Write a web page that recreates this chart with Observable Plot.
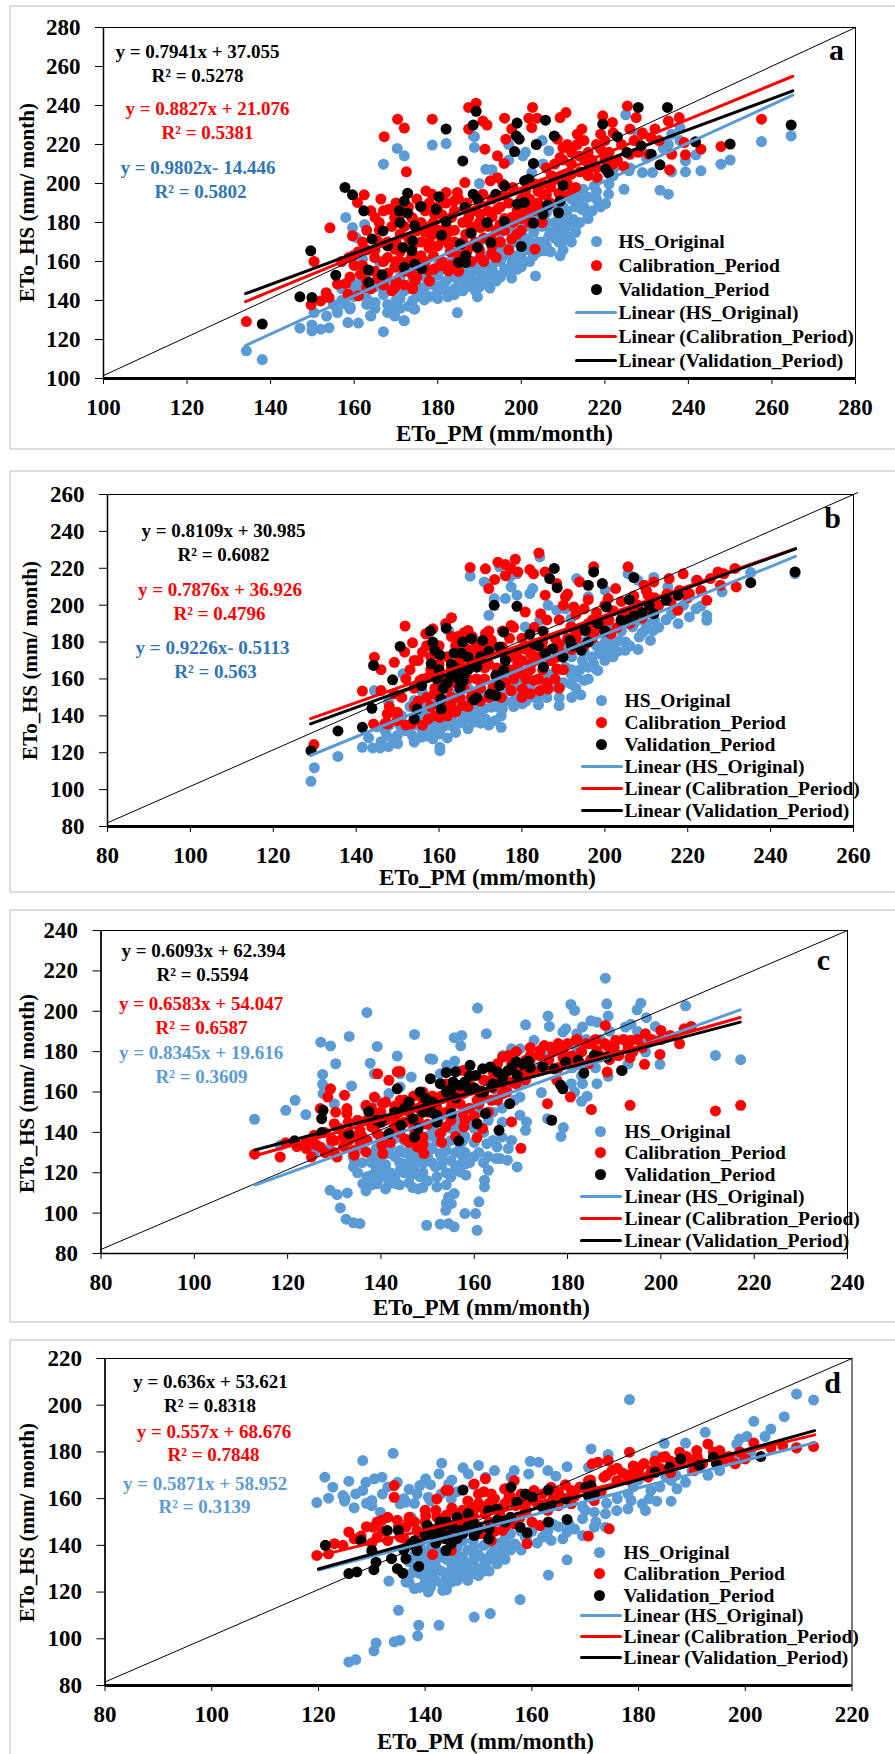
<!DOCTYPE html>
<html><head><meta charset="utf-8">
<script src="https://cdn.jsdelivr.net/npm/d3@7"></script>
<script src="https://cdn.jsdelivr.net/npm/@observablehq/plot@0.6"></script>
<style>
html,body{margin:0;padding:0;background:#fff}
#page{position:relative;width:895px;height:1754px;overflow:hidden}
.box{position:absolute;border:2px solid #dcdcdc;box-sizing:border-box}
.panel{position:absolute;left:0}
.panel svg{display:block;background:transparent}
</style></head><body><div id="page"></div>
<script>
const aHS=[[134.2,114.2],[138,109.7],[147,125.8],[149.9,127.5],[149.9,124.4],[152,125.3],[154,126],[150.4,133.8],[153.4,132],[156,133.8],[158.5,128.7],[161,128.4],[159,135.6],[164,132],[167,124],[172,129.6],[169.7,132],[168,133.8],[174.5,135.6],[176.8,140.3],[182.4,141.9],[184.7,133.8],[189.5,141.9],[192.5,146.3],[195,152],[197.7,151.5],[203.4,152.6],[200,157.3],[197.7,158.6],[202.9,162.9],[205.6,165.5],[209.3,162.9],[210,170.6],[206.6,173],[209.6,175.7],[209.6,180.9],[212.4,181.7],[215.8,184.3],[214.5,186.8],[218.6,189.4],[220.2,189.7],[220.9,194.5],[224.6,197],[221,199.7],[217.5,198.8],[214.8,197],[233.2,196.6],[235.2,194.5],[229,205.6],[231.4,205.6],[236,206],[239.3,206],[243,206.5],[239.3,211.6],[247.8,209.9],[250,212],[241.8,214.7],[257.5,221.5],[264.6,224.4],[235.2,220],[236,225.3],[238,228.7],[228,225.3],[225,235.2],[225.8,206.5],[222.3,208.2],[214.5,221.9],[212.7,215],[206.6,216.8],[205.2,210],[202.5,205.6],[200.4,214.2],[197,220],[191.5,207.3],[188.8,218.5],[188.5,224.4],[182,220.5],[178.7,219.7],[170.3,218],[172,214.2],[167,209.9],[188.8,224],[158,182.6],[159.6,177.4],[162.5,179],[160.5,172.3],[162,161.2],[155.9,134.9],[159.1,136.6],[163.9,132.3],[169.5,133.2],[171.9,129.8],[174.3,135.7],[176.7,140.9],[165,147],[167,143],[170,140],[172,145],[175,142],[177,147],[180,145],[182,150],[184,146],[186,150],[188,148],[190,150],[192,153],[194,150],[168,150],[171,152],[174,150],[176,153],[178,150],[180,153],[183,155],[186,155],[189,155],[192,158],[195,160],[198,163],[200,165],[203,168],[205,170],[207,175],[201,172],[198,170],[195,166],[192,163],[189,160],[186,160],[183,160],[180,158],[164,155],[166,160],[162,145],[160,142],[158,138],[163,138],[165,136],[168,138],[171,136],[174,140],[206,185],[210,188],[212,192],[216,193],[218,196],[222,204],[226,208],[230,213],[234,218],[238,222],[213,178],[211,173],[209,170],[190,200],[193,207],[197,212],[201,216],[205,222],[210,218],[185,165],[190,170],[195,175],[200,180]];
const aHSDense=[163,141,165,139,167,146,169,136,170,146,171,141,173,137,173,146,175,148,176,144,177,152,178,142,179,148,180,141,181,156,181,148,182,145,183,152,184,143,185,157,185,150,186,145,187,153,187,147,188,158,188,151,189,145,190,155,190,147,191,160,191,151,192,149,193,156,193,165,194,160,194,153,195,170,196,156,196,163,197,167,197,155,198,160,198,175,199,170,199,156,200,162,200,172,201,166,201,178,202,160,202,170,203,175,203,182,204,165,204,170,205,178,205,185,206,168,206,180,207,165,208,172,208,180,208,188,209,176,210,166,210,182,211,178,211,186,212,170,213,175,213,188,214,180,214,192,215,188,216,182,217,186,218,192,219,188,161,149,159,143,157,140,160,147,155,138,157,146];
const aCal=[[134.2,129.2],[149.7,137.8],[150.4,160],[154.2,177.3],[153.3,144],[154,141.5],[152,139.8],[156,148.4],[158,148.7],[158.5,143.2],[161,142.4],[159.6,173.2],[159.7,162.9],[158.7,162],[160.8,190.3],[162.4,194.2],[165,182.6],[166.4,192],[167.2,224],[170.4,233],[172,228.4],[172.5,206],[178.7,233],[187.4,239],[189.2,241.2],[187.4,227.9],[190.8,232],[191.8,230],[191.3,217.6],[196,233.5],[202.7,239],[201.8,233.5],[203.8,233.5],[202.5,228.7],[209.3,233.8],[210.7,236.4],[214.5,227.9],[219.5,234.7],[221.8,231.3],[225.4,239.7],[227.5,233.8],[226,227.9],[235.2,232],[237.8,233.8],[239,221],[239.3,214.7],[235.5,207],[236,215],[243,217.6],[247.8,219],[257.5,233],[231,223.6],[230.5,215],[224.6,208.7],[219,217.6],[219,225.3],[213.4,225.3],[213.4,220],[210,218.5],[209.3,213.3],[215.4,211.6],[218.2,203],[212,204.8],[207.2,204],[208.6,222.7],[197.7,227.9],[196.3,222.7],[194.3,214.2],[195.9,210.3],[186.5,200.5],[192.6,201.4],[194.3,203],[195.6,199.7],[177.2,196.2],[178.6,194.5],[182,195.4],[184.7,195.4],[183.9,191],[190.8,194.5],[175.8,188.5],[168.3,186.8],[169.7,182.6],[173.8,182.6],[179.2,184.3],[183.3,182.6],[187.4,182.6],[190.2,184.3],[194.3,186.8],[197.7,182.6],[201.8,189.4],[205.2,194.5],[210,193.7],[171,174],[175,175.7],[179,174],[183,175.7],[186.7,174],[190.2,177.4],[194.9,179],[192.9,171.5],[197.7,171.5],[203.3,166.3],[165.6,170.6],[163,166],[164.9,162],[169.7,166.3],[171,160],[173.8,162.9],[177.9,167],[182.6,168.9],[192.9,163.8],[190.2,162],[184.7,159.5],[180.6,157.8],[169.7,157],[173.8,153.5],[177.9,155.2],[182.6,155.2],[161.5,153.5],[165.6,151],[169.7,146.7],[174.5,150],[163,146.7],[178,178],[181,171],[188,168],[200,185],[205,180],[212,196],[216,204],[222,210],[228,216]];
const aCalDense=[157,160,159,152,160,158,161,165,162,170,162,158,163,150,163,176,164,186,164,146,165,166,165,155,166,180,166,176,167,160,167,148,167,186,168,170,168,162,168,154,169,178,169,145,170,190,170,170,170,160,170,150,171,184,171,165,172,178,172,155,172,148,173,188,173,172,173,160,174,182,174,168,174,146,175,192,175,158,175,152,176,180,176,170,176,163,177,186,177,175,177,160,178,190,178,170,178,150,179,180,179,163,179,156,180,188,180,176,180,168,181,160,181,184,182,178,182,190,182,172,183,165,183,158,184,186,184,176,184,170,185,192,185,163,185,155,186,180,186,170,187,165,187,190,188,178,188,160,189,186,189,170,190,180,190,166,190,190,191,172,191,160,192,186,192,178,193,192,193,168,193,183,194,176,194,162,195,188,195,170,196,194,196,182,196,176,197,190,197,166,198,180,198,198,199,186,199,174,200,192,200,182,200,176,201,196,201,186,202,180,202,192,203,200,203,186,204,190,204,196,205,186,205,200,206,194,206,208,207,198,207,190,208,210,208,202,209,195,210,204,210,212,211,200,211,220,212,210,212,216,213,198,214,206,214,214,215,222,216,207,216,216,217,212,218,220,218,208,220,212,220,222,221,216,222,226,223,212,224,220,226,215,227,222,229,226,232,228,233,222];
const aVal=[[138,127.9],[147,141.9],[149.9,141.5],[149.6,165.5],[155.6,153],[157.8,198],[159.6,194.2],[162.3,186],[163.4,155.6],[163.5,149.2],[166.7,153.2],[164.3,171.5],[166.9,175.7],[168,168],[170.8,186],[171,180],[172,191],[172.8,195],[172.8,184.8],[174.5,178.3],[171.7,167.2],[173.8,165.5],[174,170.6],[172,157],[174.5,158.6],[176.2,156.4],[176,188.2],[179.6,186.8],[180.3,193.2],[180.9,173.5],[182,180.5],[182,227.9],[185,159.5],[186.7,162.9],[186.7,159.5],[185.4,168.9],[186.5,187.7],[186,211.6],[188,174.5],[189.5,167.2],[188.5,194.5],[189.5,192],[188.5,230],[189.2,237],[191.8,180],[192.7,169.7],[193.9,194.5],[196,198.8],[196,180.5],[198.4,216.4],[199,231],[198.8,224.4],[199.5,222.7],[199,189.4],[200.7,190.3],[200,167.7],[200.8,201.4],[201.8,202.2],[202.9,210.3],[203.6,220],[202.9,179.7],[205.2,184.3],[205.8,232.5],[207.9,224.4],[206.3,189],[210,199],[208.9,185],[209.3,191],[219.5,230.4],[220.2,207.4],[220.9,205.3],[223,224],[225.3,215.9],[228,239],[228.7,219.3],[231.1,215],[233.2,209.6],[235,239],[241.7,221.4],[250,220.2],[264.6,230]];
const aLines=[[134,116.9,265,245.3],[134,139.4,265,255],[134,143.5,265,247.5]];

const bHS=[[129.1,104.5],[129.9,111.9],[135.6,118],[141.5,122.9],[144,122.6],[145.8,122.6],[147.8,123.3],[149.2,125.7],[149.9,129.3],[147.4,129.3],[154,125.7],[153.6,129.3],[155.8,128.4],[158.5,127.5],[160.2,122.9],[160.2,121.1],[160.2,130.2],[163,134.7],[165.7,137.4],[168.2,136.5],[171.2,138.3],[175,133.8],[173.6,137.4],[175.3,143.8],[178.8,151],[180.1,146.5],[183.6,150],[186,150],[189,145.6],[194.2,151.4],[195,159.2],[198.3,164.6],[197.3,168.2],[191.8,162.8],[188.4,155.5],[204.9,175.5],[203.5,180.9],[200.8,174.6],[200.1,180],[208.3,182.7],[211,180.9],[211.7,186.3],[209.7,186.3],[206.7,188.2],[214.8,192.1],[217.7,190],[220.4,193.6],[224.6,191.8],[224.6,194.5],[223.2,199.6],[228.3,207.2],[222,213.5],[235.2,217.7],[245.9,217.1],[211.8,215],[215.2,209.9],[208,213.5],[205.6,217.1],[193.2,214.4],[196,204.5],[200.1,208],[184.3,226.2],[167.5,215.7],[170.9,212.6],[172,194.5],[173.3,203.6],[176,203.6],[177.4,209.9],[178.8,205.4],[177.1,215.3],[174.6,220.8],[178.8,217],[181.9,206.3],[182.6,209],[180.8,188.2],[184.3,191.8],[186.3,199.9],[188.4,197.2],[190.5,198],[191.8,192.7],[144.4,153.7],[147.8,147.4],[151.3,162.8],[154,148.3],[156,152.8],[162.3,186.3],[167,148.3],[169.8,151.9],[173,150],[178,155.5],[182.2,159.2],[186.3,162.8],[190.5,166.4],[194.6,170],[198.7,173.7],[191.8,157.4],[193.2,161],[196,166.4],[201.5,179],[157.4,135.6],[160.2,135.6],[156,132],[150.6,134.7],[165.7,142.9],[163,139.2],[169.8,141],[172.6,144.7],[178,148.3],[176.7,153.7],[180.8,155.5],[185,151.9],[192,150],[152,132],[147,132],[162,128],[158,131]];
const bHSDense=[143,128,145,134,146,126,148,135,150,125,151,140,152,132,153,145,154,135,155,140,156,147,157,129,157,143,158,137,159,147,159,132,160,140,161,150,161,134,162,143,162,137,163,152,164,131,164,146,165,136,165,153,166,140,166,148,167,133,167,155,168,143,168,139,169,152,169,146,170,136,170,155,171,144,172,150,172,135,173,156,174,145,174,152,175,140,175,160,176,148,176,156,177,163,178,145,178,158,179,152,179,165,180,150,180,160,181,170,181,148,182,155,182,165,183,150,183,172,184,160,184,146,185,168,185,155,186,175,186,150,187,162,187,170,188,158,188,176,189,150,189,165,190,172,190,158,191,178,192,165,192,172,193,155,193,180,194,165,195,175,195,180,196,160,196,185,197,172,198,178,198,165,199,185,200,170,200,176,201,188,202,178,202,172,203,175,204,186,205,180,206,178,207,190,208,176,208,192,209,185,210,190,212,192,213,188,216,195,219,200,222,198];
const bCal=[[129.8,124.4],[141.5,153.4],[144.4,171.8],[144.2,135.6],[146,165],[146,153.7],[149.2,169],[149.2,152],[151.8,188.7],[153.6,179.6],[151.7,174.6],[147.5,141],[149.9,142],[147.7,135.6],[149.9,137.4],[153.3,135.6],[154,170],[156,174.6],[156.8,184.5],[158.5,187.2],[161.6,190],[163,193.2],[164.5,183],[167,186.3],[171.2,184.5],[172.6,181],[167.5,220.4],[171.2,219.7],[172,209],[173.4,213.9],[174.2,223.3],[176,222],[177.4,219.9],[176,216],[178.4,224.9],[179,218],[181.9,219.3],[182.8,217],[184.1,228.3],[184.5,195.4],[185.6,205.4],[185.6,218],[188.4,211.7],[190.5,204.5],[191,206],[192.5,199],[193.9,212.6],[196,203],[197.3,220.8],[200.8,203.6],[202.6,209],[205.6,220.8],[209.5,210.8],[211.8,212.6],[215.5,214.4],[218.9,217],[222.3,213.5],[220.4,206.3],[217.6,197.2],[224.6,202.6],[223.2,208],[227.3,218],[228.7,217],[227.9,210.8],[231.7,209.9],[231.4,219.9],[225.5,214.4],[180.8,196.3],[177.4,189],[175.3,186],[171.8,183],[168.4,175.5],[171.2,177.3],[175.3,177.3],[178,171.8],[182.2,173.7],[178,164.6],[182.2,168.2],[180.1,162.8],[182.9,159.2],[184.3,153.7],[186.3,154.6],[189,155],[177.4,153.7],[180.1,154.6],[174,166],[171,166],[165.7,162.8],[163,166.4],[160.2,162.8],[157.4,161],[155.4,159.2],[161.6,157.4],[163,150],[158.8,152],[163,144.7],[165.7,145.6],[167.8,150],[157.4,138.3],[160.2,139.2],[191.8,188.2],[196,190],[200,191.8],[204.2,193.6],[209.7,195.4],[210.4,205.4],[193,184.5],[197.3,184.5],[201.5,184.5],[189,179],[185,173.7],[188.4,165.5],[188.4,171.8]];
const bCalDense=[147,136,148,145,150,140,151,150,152,160,152,135,153,165,154,145,154,155,155,170,155,148,156,160,156,135,157,178,157,150,158,165,158,145,158,172,159,140,159,155,160,178,160,150,160,168,161,145,161,160,162,172,162,140,162,155,163,183,163,165,163,148,164,178,164,158,164,142,165,170,165,150,166,185,166,165,166,155,167,176,167,145,167,160,168,183,168,170,168,152,169,160,169,178,170,168,170,155,170,148,171,175,171,160,172,186,172,168,172,150,173,155,173,178,174,165,174,160,175,176,175,150,176,172,176,158,177,182,177,165,178,188,178,160,179,175,179,168,180,182,180,150,180,170,181,160,181,176,182,152,182,165,183,170,183,188,184,160,184,172,185,180,185,165,186,192,186,175,186,158,187,170,188,182,188,160,189,192,189,175,190,200,190,165,191,182,192,188,192,176,193,195,193,182,194,186,195,198,195,178,196,188,197,192,197,182,198,196,199,188,200,200,200,186,201,192,202,197,203,188,204,202,205,195,206,190,207,205,207,196,208,200,209,193,210,208,211,198,212,204,213,200,215,206,216,202,218,208,220,204];
const bVal=[[129.1,121.1],[135.6,131.8],[141.5,133.8],[143.8,144.1],[144.2,167.3],[148.8,159.5],[150.6,177.6],[154,138.3],[154.7,143.8],[155.8,156.4],[158.1,168.2],[157.9,186],[158.5,180],[159,175.5],[160.2,173],[160.5,143.8],[160.5,149.2],[159.5,160],[161.7,187.6],[163.6,174],[165.7,180],[165.4,174],[167.8,181.8],[167,171.8],[164.5,160.5],[165.8,159.2],[165.2,157],[169.1,166.4],[170.5,180.9],[173.3,199.9],[168.4,148.7],[169.1,149.7],[172.3,151.9],[173.7,151],[174.6,156.4],[173.7,161.9],[175.6,164.6],[174.6,177.3],[175.6,185.4],[178.8,199.4],[181.9,184.2],[183,179],[185.1,185.8],[185.2,166.4],[185.6,173.7],[186.7,214.4],[187.8,219.9],[188.5,209.5],[187.4,176.4],[189.9,171.8],[191.6,180.9],[194.3,175.5],[195.3,186.3],[196,210.8],[197.3,218],[198.3,190],[199.4,211.7],[200.4,199],[203.9,191.8],[205.6,191.8],[205.9,203],[207,215],[210.7,199.9],[211.8,195.4],[214.8,202.6],[217.7,205.4],[235.2,212.2],[245.9,218]];
const bValDense=[160,165,162,158,163,162,164,166,165,155,166,162,167,165,168,168,170,172,172,175,163,168,161,155,176,170,184,178,192,178,196,180,200,186,207,194,209,196];
const bLines=[[129,118.5,246,226.5],[129,138.5,246,230.7],[129,135.6,246,230.5]];

const cHS=[[112.9,146.5],[119.6,150.9],[121.6,155.9],[123.9,148.8],[127.1,184.7],[129.2,182.8],[133.2,187.5],[137,199.4],[130.3,174],[127.5,168.7],[127.5,163.8],[127.6,159.2],[133.7,163],[137.7,174.3],[139.2,182.6],[143.5,177.8],[147.2,188.5],[150.5,176.5],[151.1,176.2],[155.7,186.9],[157.3,188],[157.1,182.9],[155.8,175.3],[154.1,173.2],[160.7,201.6],[162.6,188.9],[171,193.3],[175.8,197.6],[176.1,192.5],[172.8,185.6],[180.7,203.4],[181.5,200.4],[185,195.3],[188.1,216.4],[188.4,203.7],[188.7,197.6],[194.9,200.7],[195.7,204],[196.9,196.8],[205.3,202.7],[193.6,193.5],[198.8,192.5],[211.7,178.1],[217.1,176],[199.8,173.7],[196.7,179.8],[191.8,170.7],[188.7,167.8],[186.3,164.1],[184.2,157.9],[183,155.4],[183.2,164.1],[179.1,142.4],[178.6,138],[175.7,146.8],[174.4,159.7],[171.2,145.2],[171,141],[169.8,148.5],[169.2,122.9],[168,136],[167.1,126.2],[165.5,127],[164.7,127],[167.3,132],[164.9,132.8],[162.7,134.4],[165.9,137.7],[163,121.2],[162.2,116.3],[162.2,113],[161,105.6],[160.3,99.8],[158,99.8],[160.6,91.5],[155.7,93.2],[154.5,94.8],[152.7,94.5],[149.8,94],[155.1,104.7],[154.5,108],[153.9,101.4],[154,105],[152,113],[155.7,109.7],[149,112.7],[146.8,112.7],[143.1,114.6],[141.7,114.6],[139.2,114.6],[136.1,114.6],[136.8,111],[129.1,111.3],[130.6,109.2],[132.8,110],[131.3,102.6],[132.5,97],[134.1,95.2],[135.5,94.8],[149,124.5],[151.7,122.9],[148.4,118],[146.5,118.8],[144.1,121.2],[141.7,118.8],[138,118.8],[134.1,122.9],[134.3,126.2],[138,125],[140.4,122.9],[145.3,124.5],[152.7,129.5],[157.6,127.8],[158.2,124.5],[157,120.4],[158.2,118.8],[141.7,129.5],[144.1,131],[146.5,132.8],[150.1,132.8],[153.9,134.4],[157.6,136],[139.2,127],[146.5,127.8],[151.5,137.7],[156.3,142.7],[152.7,147.6],[130,154.2],[136.8,152.6],[139.2,155.9],[141.7,159.2],[144.1,162.5],[146.5,167.4],[144.1,169],[138.6,169],[152.7,169],[156.3,170.7],[166.1,178.1],[168,181.4],[169.8,181.4],[168.6,155.9],[169.8,157.5],[179,189.7],[179.6,191.3],[182,188.9],[183.2,192.2],[186.3,194.6],[192.4,192.2],[193,174],[180.8,164.1],[181.5,160],[125.7,129.8],[118.4,133.6],[129,132]];
const cHSDense=[134,128,135,120,136,125,136,132,137,118,137,136,138,128,138,114,139,122,139,132,140,118,140,127,140,136,141,124,141,112,142,133,142,120,143,128,143,118,143,137,144,125,144,114,145,130,145,120,145,136,146,124,146,115,147,130,147,122,147,138,148,126,148,112,149,134,149,120,150,128,150,138,150,116,151,125,151,132,151,142,152,118,152,136,153,128,153,124,153,140,154,114,154,131,154,120,155,136,155,126,155,118,155,142,156,130,156,122,156,146,157,134,157,124,157,140,158,130,158,138,159,125,159,146,160,135,160,128,160,142,161,130,161,150,162,125,162,140,163,128,163,146,164,136,164,150,165,160,166,145,166,152,167,162,170,165,172,170,174,172,176,178,178,182,180,178,181,172,182,182,183,168,184,186,185,176,186,172,187,186,189,190,190,178,190,184,192,186,194,180,195,190,197,184];
const cCal=[[112.9,129.2],[118.4,127.8],[119.6,134.9],[123.9,135.3],[125.1,127.8],[125.7,138.6],[127,132.8],[127,151.8],[128.6,157.5],[129.2,161.6],[130.6,127.8],[130.3,150],[130,144.3],[132.2,158.4],[131.9,137.7],[132.7,151.8],[132.7,149.3],[134.3,128.7],[136.8,130.3],[136.8,153.4],[138.6,157.5],[139.3,169],[138,149.3],[138,142.7],[140.4,129.5],[140.2,133.6],[141.7,165.8],[144.1,170.2],[143.5,170],[145.1,136.9],[147.8,132.8],[149.2,129.5],[149,137.7],[144.1,155.9],[146.5,152.6],[142.9,150.9],[140.4,154.2],[150.8,154.2],[152.7,139.4],[153.9,142.7],[155.1,152.6],[157.6,170.7],[157.6,149.3],[157.8,142.7],[160.6,137.4],[161.8,141.9],[160.6,155.9],[163.7,155.9],[166.1,159.2],[168,145.2],[170,132.1],[166.1,177.3],[167.3,178.1],[169.2,174],[171,175.7],[174.1,180.6],[176.3,182.3],[179,180.6],[181.8,185.6],[185,183.9],[188.1,193],[190.3,185.6],[188.7,182.3],[186.3,180.6],[193.6,185.6],[196.7,188.9],[200,190.5],[205,191.3],[206.5,192.5],[204,183.9],[199.8,178.6],[196.5,173.7],[193.4,177],[188.5,169.9],[180.6,157.5],[175.7,154.2],[185.1,151.3],[193.4,153.4],[211.7,150.6],[217.1,153.4],[193,182.3],[184.5,174],[180.8,175.7],[177.7,165.8],[174.7,172.4],[171.6,169],[163.7,165.8],[161.2,160.8],[157.6,159.2],[152.7,157.5],[149,155.9],[151.4,149.3],[146.5,146],[142.9,142.7],[139.2,139.4],[135.5,141],[133.1,136],[129.4,136],[135.5,134.4],[130,130],[165,168],[168,165],[172,178],[178,172],[183,180]];
const cCalDense=[122,133,124,132,126,134,128,140,128,130,130,136,131,142,132,133,133,145,134,138,134,131,135,146,136,138,137,146,137,136,138,152,139,144,140,150,140,138,141,146,141,155,142,135,143,153,143,147,144,140,144,150,145,156,145,145,146,150,146,135,147,158,147,142,148,152,148,146,149,160,149,134,150,150,150,144,151,158,152,152,152,146,153,158,153,135,154,150,154,164,155,146,155,156,156,138,156,160,157,154,158,160,158,146,159,164,159,152,160,148,160,162,161,154,162,158,162,166,163,150,164,162,164,170,165,156,165,174,166,164,167,170,167,160,168,174,169,164,169,180,170,170,171,166,172,176,172,182,173,170,174,178,175,172,175,183,176,176,177,180,178,172,178,184,179,177,180,184,181,178,182,174,182,186,183,180,184,184,185,176,186,186,187,178,188,184,189,176,190,182,191,178,192,186,194,180,195,186,196,182,198,186,200,186,202,188];
const cVal=[[121.5,135.8],[127.3,146.8],[127.6,150.9],[127.3,139.9],[133.1,139.4],[137.4,150.3],[139.2,146],[141.7,139.4],[143.5,161.6],[144.3,143.5],[145,151.8],[146.8,146.8],[147.2,137.7],[148.4,160],[149.6,156.7],[150.6,166.6],[152.7,164.1],[154,169.7],[150.8,150],[152,148.5],[155.1,149.3],[156.7,135.8],[155.5,165],[157,163.3],[155,161.6],[158.8,161.6],[159.1,173.2],[160.3,168.2],[161.8,171.5],[163.4,172.4],[162.4,149.3],[160.6,144.3],[165.3,141],[167.6,154.2],[161.2,160],[163.7,162.5],[166.1,167.4],[167.3,170.7],[169.2,168.2],[170.4,174],[171.6,175.3],[174.7,172.4],[176.6,146],[179,161.6],[178.5,163.5],[177.1,171.5],[179.6,174.8],[183.5,169.4],[182.3,175.7],[185.7,178.1],[186.8,177.3],[188.5,177.3],[191.6,170.7]];
const cValDense=[140,145,143,150,146,155,149,150,151,155,154,160,156,157,158,165,160,162,162,160,164,164,165,170,166,165,168,172,169,175,172,172,156,170,159,168,148,142,152,145];
const cLines=[[113,113.9,217,200.7],[113,128.4,217,196.9],[113,131.3,217,194.6]];

const dHS=[[119.7,158.3],[121.2,169.2],[121.9,160.2],[122.7,164.9],[124.6,161.3],[124.9,158.9],[125.7,167.5],[126.7,156.1],[128.3,176.3],[128.3,163.5],[128.9,167],[130,159.2],[130,157],[130.5,168.5],[131.9,169.2],[131.6,154.2],[134,179.4],[134.8,167],[135.3,157.8],[136.4,158.5],[139,165.6],[138.5,162],[140.1,168.5],[142.6,170.6],[143.1,175.2],[147.1,173.2],[150,174.2],[151.3,169.2],[148.1,170.6],[144.4,166.3],[140.6,160.6],[137.4,152],[144.9,159.9],[156.1,169.2],[156.7,172],[159.4,170.6],[159.7,176],[161.3,175.6],[164.5,169.6],[166.6,173.7],[171.1,181.3],[174.3,178.9],[170.6,173.4],[178.3,202.4],[184.8,183.7],[183.2,178.4],[188.8,183.8],[192.5,188.4],[198.4,183.4],[198.9,185.5],[200.3,186.6],[201.6,193.1],[203.7,186.6],[204.8,189.8],[207.3,195.1],[209.6,204.8],[212.8,202.2],[209.6,182],[169.5,156.4],[171.7,154.2],[173.8,153.5],[173.8,147.8],[175.9,154.9],[178,155.6],[181.3,154.9],[180.7,157.8],[183.4,158.9],[186.1,158.9],[178.6,159.2],[182.3,163.5],[187.2,164.2],[188.8,167],[186.1,167.8],[195.2,172],[169.5,144.2],[169.5,151.4],[171.7,147.8],[166.6,145.7],[165.8,142.8],[163.6,142.1],[162,143.5],[163.1,127.3],[166.6,133.8],[157.8,116.8],[152.2,110.8],[149.2,109.3],[142.6,105.8],[138.8,105.8],[138.6,101.2],[135.3,99.4],[134.2,98.7],[135,112.2],[130.8,98.2],[130.4,94.8],[127,91.1],[125.7,90.1],[133.2,124.7],[136.4,124.3],[138,121.5],[140.6,120],[143.3,120.7],[141.7,125],[144.9,124.3],[139,127.9],[141.7,129.3],[143.9,127.9],[146,128.6],[148.1,127.9],[149.2,130.7],[151.3,132.1],[153.5,132.1],[144.9,132.1],[141.7,132.8],[139.6,132.1],[147.1,133.6],[149.2,135],[152.4,136.4],[154.5,137.8],[156.7,140.7],[158.8,143.5],[146,136],[142.8,136.4],[137.4,127.9],[149.2,139.3],[152.4,140.7],[144.9,139.3],[147,142],[141,139],[155,143],[148,146],[151,145]];
const dHSDense=[136,128,137,133,137,124,138,130,138,136,139,122,139,134,139,140,140,126,140,130,140,137,140,124,141,134,141,122,141,128,142,138,142,125,142,131,143,135,143,124,143,129,144,127,144,134,144,121,145,130,145,136,145,126,146,132,146,139,146,125,147,127,147,130,147,135,147,142,148,125,148,132,148,138,149,128,149,133,149,142,150,130,150,136,150,127,151,134,151,140,151,129,152,135,152,129,152,144,153,134,153,137,154,136,154,141,155,140,155,134,156,138,156,145,157,140,158,146,158,138,159,143,160,146,161,141,162,148,163,146,164,149,165,148,167,149,168,147,170,155,172,150,174,158,176,160,178,162,179,165,180,168,182,160,184,165,185,170,187,170,190,172,191,175,193,170,196,176,199,177,201,180,125,160,127,162,129,158,132,162,133,165,136,160,137,164,138,158,141,166,141,159,143,162,145,168,146,163,149,166,153,172,155,164,163,172];
const dCal=[[119.7,135.7],[121.9,136.4],[123,140.7],[124.6,140],[125.7,145.7],[126.7,142.8],[130.2,147.8],[131,143.5],[131.9,150.7],[134.2,165.6],[134.2,160.6],[134.8,150.7],[136.4,147.8],[136.9,150],[138.5,146.4],[140.1,152.8],[141.4,136.1],[142.2,159.9],[143.9,163.5],[144.4,163.5],[142.2,152.1],[144.9,137.8],[146,150],[149.2,166.3],[150,162],[151.3,168.5],[148.7,156.4],[152.4,162],[154.9,164.2],[156.7,167.7],[158.8,159.2],[159.1,140.7],[160.4,163.5],[161.5,148.5],[163.6,164.9],[166.3,166],[167.4,163.5],[170.6,167.7],[171.3,174.9],[172.4,175.6],[173.5,169.2],[174.3,176.3],[170.6,144],[174.5,147.1],[178.3,179.9],[175.9,167.7],[178.6,170.6],[180.2,173.4],[181.8,169.2],[184.5,177.7],[187.7,179.9],[190.9,180.6],[193,183.4],[195.2,180.6],[195.7,178.4],[201.6,183.8],[204.8,181.7],[207,182.7],[209.6,181.7],[212.8,182.3],[198.1,174.9],[200,177],[190.4,172],[187.2,175.6],[182.4,172],[167.4,157.8],[164.2,159.2],[157.8,152],[154.5,146.4],[152.4,142.1],[150.3,145],[143.9,146.4],[141.7,145],[138.5,140.7],[135.3,143.5],[143.9,152],[147.1,147.8],[151.3,153.5],[154.5,156.4],[158.8,154.9],[162,156.4],[167.4,160.6],[171.7,159.2],[146,153.5],[148.1,150.7],[153.5,150.7],[156.7,149.2],[155.7,160.6],[150.3,156.4]];
const dCalDense=[128,144,129,148,130,141,131,150,132,146,133,142,133,152,135,148,136,143,137,152,138,150,139,144,140,150,140,155,141,146,142,147,142,155,143,149,143,143,144,153,145,146,145,156,146,143,147,155,147,151,148,159,149,148,149,153,150,158,150,148,151,163,152,150,152,158,153,146,153,160,154,153,155,158,155,148,156,161,157,157,157,150,158,162,159,155,160,150,160,160,161,158,162,162,163,155,164,160,165,163,165,157,166,160,168,161,169,165,171,168,172,163,173,163,174,170,175,172,176,173,177,171,178,168,179,174,180,171,181,175,182,170,183,176,184,173,185,178,186,176,186,171,188,175,189,178,190,176,191,178,192,175,194,180,196,176,197,178,199,180];
const dVal=[[121.3,140],[125.7,127.9],[127.2,128.6],[128,142.1],[130,137.8],[130.4,129.6],[130.8,132.8],[132.9,146.4],[133.7,134.3],[135,146.4],[134.8,130],[135.8,128.1],[136.4,134.3],[137.4,140.7],[138.5,137.8],[138.8,131],[140.4,148.5],[141.7,144.2],[142.8,150],[143.9,137.8],[143.9,142.8],[144.9,140.7],[147.1,163.7],[146.5,146.4],[148.1,153.5],[149.2,144.2],[151.9,142.8],[151.9,154.9],[153.5,155.6],[153.5,150.7],[156.1,164.9],[157.2,158.5],[157.8,147.8],[158.8,162],[159.1,145.4],[160.1,160.6],[162,156.4],[163.1,163.7],[163.1,150],[163.6,157.8],[166.6,151.1],[166.3,159.9],[170.1,164.9],[171.1,165.6],[170.6,161.3],[171.7,162],[183.1,171.3],[185.8,173.4],[187.9,177],[191.4,174.2],[194,177.7],[194.6,174.9],[202.9,178]];
const dValDense=[136,138,138,142,140,145,141,147,142,146,143,147,144,144,145,148,146,143,146,152,147,145,148,148,149,150,150,147,144,150,142,141,152,147,155,150,156,152];
const dLines=[[120,129.4,213,184],[120,135.5,213,187.3],[120,129.9,213,189.1]];

const seriesNames=["HS_Original","Calibration_Period","Validation_Period"];
const lineNames=["Linear (HS_Original)","Linear (Calibration_Period)","Linear (Validation_Period)"];
const colors=["#5B9BD5","#FF0000","#000000"];
const FONT="'Liberation Serif','Times New Roman',serif";
const pairs=a=>d3.range(0,a.length,2).map(i=>[a[i],a[i+1]]);

const panels=[
 {tag:"a",series:[aHS.concat(pairs(aHSDense)),aCal.concat(pairs(aCalDense)),aVal],lines:aLines,dom:[100,280],diag:[[100,101.5],[280,280]],
  top0:0,h:460,box:[9,5,450],L:103,R:855,T:27,B:378,bw:3,
  eq:[["y = 0.7941x + 37.055",197,51,"#000"],["R² = 0.5278",197,75,"#000"],["y = 0.8827x + 21.076",207,108,"#FF0000"],["R² = 0.5381",207,132,"#FF0000"],["y = 0.9802x- 14.446",197.5,167,"#2E75B6"],["R² = 0.5802",200,191,"#2E75B6"]],
  letter:[836,50],mx:596,my:[241,265,289],lx:[576,615],ly:[312,336,360],tx:618,xt:[504,433],yt:[27,202]},
 {tag:"b",series:[bHS.concat(pairs(bHSDense)),bCal.concat(pairs(bCalDense)),bVal.concat(pairs(bValDense))],lines:bLines,dom:[80,260],diag:[[80,82],[261,261]],
  top0:460,h:440,box:[9,470,893],L:107,R:853,T:494,B:826,bw:3,
  eq:[["y = 0.8109x + 30.985",223,530,"#000"],["R² = 0.6082",223,554,"#000"],["y = 0.7876x + 36.926",219.5,589,"#FF0000"],["R² = 0.4796",219,613,"#FF0000"],["y = 0.9226x- 0.5113",212,647,"#2E75B6"],["R² = 0.563",215,671,"#2E75B6"]],
  letter:[832,518],mx:601,my:[700,722,744],lx:[582,621],ly:[766,788,810],tx:624,xt:[487,877],yt:[30,660]},
 {tag:"c",series:[cHS.concat(pairs(cHSDense)),cCal.concat(pairs(cCalDense)),cVal.concat(pairs(cValDense))],lines:cLines,dom:[80,240],diag:[[80,82],[240,240]],
  top0:900,h:430,box:[9,909,1323],L:100.5,R:847,T:930,B:1253,bw:1.5,
  eq:[["y = 0.6093x + 62.394",203,950,"#000"],["R² = 0.5594",202,974,"#000"],["y = 0.6583x + 54.047",200.6,1003,"#FF0000"],["R² = 0.6587",201,1027,"#FF0000"],["y = 0.8345x + 19.616",200.6,1052,"#5B9BD5"],["R² = 0.3609",201,1076,"#5B9BD5"]],
  letter:[823,960],mx:600,my:[1131,1152,1174],lx:[581,620],ly:[1196,1218,1240],tx:624,xt:[481,1307],yt:[27,1093]},
 {tag:"d",series:[dHS.concat(pairs(dHSDense)),dCal.concat(pairs(dCalDense)),dVal.concat(pairs(dValDense))],lines:dLines,dom:[80,220],diag:[[80,81.5],[220,220]],
  top0:1330,h:424,box:[9,1339,1760],L:104.5,R:851.5,T:1358,B:1685,bw:3,
  eq:[["y = 0.636x + 53.621",210,1381,"#000"],["R² = 0.8318",209.5,1405,"#000"],["y = 0.557x + 68.676",213.5,1431,"#FF0000"],["R² = 0.7848",213,1454,"#FF0000"],["y = 0.5871x + 58.952",204.6,1483,"#5B9BD5"],["R² = 0.3139",204,1506,"#5B9BD5"]],
  letter:[832,1383],mx:599,my:[1552,1573,1595],lx:[581,620],ly:[1615,1636,1657],tx:623,xt:[485,1741],yt:[27,1522]}
];

const page=document.getElementById("page");
for(const p of panels){
  const box=document.createElement("div");box.className="box";
  box.style.cssText=`left:${p.box[0]}px;top:${p.box[1]}px;width:${895-p.box[0]+4}px;height:${p.box[2]-p.box[1]}px`;
  page.appendChild(box);
  const [d0,d1]=p.dom;
  const top=p.top0,W=895,H=p.h;
  const X=px=>d0+(px-p.L)/(p.R-p.L)*(d1-d0);
  const Y=py=>d0+(p.B-py)/(p.B-p.T)*(d1-d0);
  const ticks=d3.range(d0,d1+1,20);
  const lbl=(text,px,py,color,size,anchor="middle",extra={})=>Plot.text([text],{x:X(px),y:Y(py),text:d=>d,fill:color,fontSize:size,fontWeight:"bold",fontFamily:FONT,textAnchor:anchor,lineAnchor:"middle",...extra});
  const marks=[];
  p.series.forEach((s,i)=>marks.push(Plot.dot(s,{x:d=>d[0],y:d=>d[1],r:5.5,fill:colors[i],stroke:"none"})));
  marks.push(Plot.line(p.diag,{x:d=>d[0],y:d=>d[1],stroke:"#000",strokeWidth:1}));
  p.lines.forEach((l,i)=>marks.push(Plot.line([[l[0],l[1]],[l[2],l[3]]],{x:d=>d[0],y:d=>d[1],stroke:colors[i],strokeWidth:3})));
  marks.push(Plot.frame({stroke:"#000",strokeWidth:1}));
  marks.push(Plot.ruleY([d0],{stroke:"#000",strokeWidth:p.bw}));
  marks.push(Plot.ruleX([d0],{stroke:"#000",strokeWidth:1.5}));
  marks.push(Plot.axisX({ticks,tickSize:6,tickPadding:14,tickFormat:d=>d,fontSize:23,fontWeight:"bold",fontFamily:FONT,fill:"#000",stroke:"#000",label:null}));
  marks.push(Plot.axisY({ticks,tickSize:8,tickPadding:15,tickFormat:d=>d,fontSize:23,fontWeight:"bold",fontFamily:FONT,fill:"#000",stroke:"#000",label:null}));
  p.eq.forEach(e=>marks.push(lbl(e[0],e[1],e[2],e[3],19)));
  marks.push(lbl(p.tag,p.letter[0],p.letter[1],"#000",30));
  seriesNames.forEach((n,i)=>{
    marks.push(Plot.dot([[X(p.mx),Y(p.my[i])]],{x:d=>d[0],y:d=>d[1],r:5.5,fill:colors[i],stroke:"none"}));
    marks.push(lbl(n,p.tx,p.my[i],"#000",19.5,"start"));
  });
  lineNames.forEach((n,i)=>{
    marks.push(Plot.line([[X(p.lx[0]),Y(p.ly[i])],[X(p.lx[1]),Y(p.ly[i])]],{x:d=>d[0],y:d=>d[1],stroke:colors[i],strokeWidth:3}));
    marks.push(lbl(n,p.tx,p.ly[i],"#000",19.5,"start"));
  });
  marks.push(lbl("ETo_PM (mm/month)",p.xt[0],p.xt[1],"#000",23));
  marks.push(lbl("ETo_HS (mm/ month)",p.yt[0],p.yt[1],"#000",21,"middle",{rotate:-90}));
  const chart=Plot.plot({
    width:W,height:H,
    marginLeft:p.L,marginRight:W-p.R,marginTop:p.T-top,marginBottom:top+H-p.B,
    x:{domain:p.dom,type:"linear"},y:{domain:p.dom,type:"linear"},
    style:{background:"transparent",fontFamily:FONT,overflow:"visible"},
    marks
  });
  const wrap=document.createElement("div");wrap.className="panel";wrap.style.top=top+"px";
  wrap.appendChild(chart);page.appendChild(wrap);
}
</script></body></html>
